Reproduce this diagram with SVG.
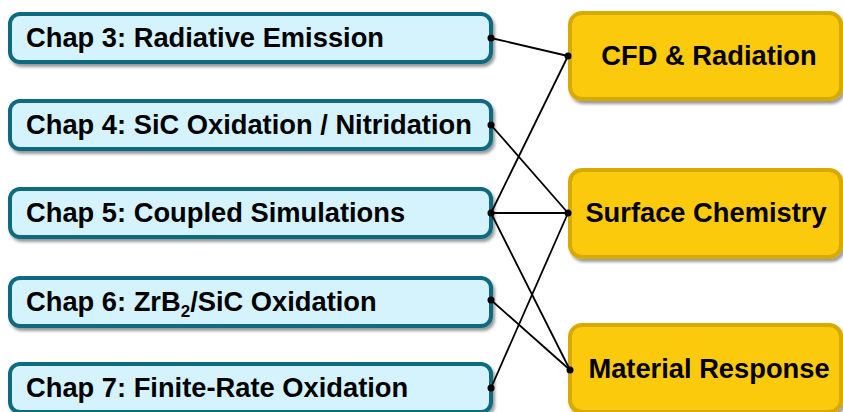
<svg xmlns="http://www.w3.org/2000/svg" width="843" height="412" viewBox="0 0 843 412">
<defs>
<filter id="sh" x="-5%" y="-20%" width="115%" height="150%">
<feDropShadow dx="2" dy="3" stdDeviation="1.5" flood-color="#000" flood-opacity="0.4"/>
</filter>
</defs>
<style>
.l rect{fill:#D5F3FC;stroke:#0F6A80;stroke-width:4;filter:url(#sh)}
.r rect{fill:#FCCA08;stroke:#D6AA06;stroke-width:4;filter:url(#sh)}
text{font-family:"Liberation Sans",Arial,sans-serif;font-weight:bold;font-size:27.3px;fill:#000}
.c line{stroke:#000;stroke-width:1.8}
.c circle{fill:#000}
</style>
<g id="n3" class="l"><rect x="10" y="14" width="481" height="48" rx="10"/><text x="26" y="47">Chap 3: Radiative Emission</text></g>
<g id="n4" class="l"><rect x="10" y="101" width="481" height="48" rx="10"/><text x="26" y="134">Chap 4: SiC Oxidation / Nitridation</text></g>
<g id="n5" class="l"><rect x="10" y="189" width="481" height="48" rx="10"/><text x="26" y="222">Chap 5: Coupled Simulations</text></g>
<g id="n6" class="l"><rect x="10" y="278" width="481" height="48" rx="10"/><text x="26" y="311">Chap 6: ZrB<tspan font-size="17" dy="6">2</tspan><tspan dy="-6">/SiC Oxidation</tspan></text></g>
<g id="n7" class="l"><rect x="10" y="364" width="481" height="48" rx="10"/><text x="26" y="397">Chap 7: Finite-Rate Oxidation</text></g>
<g id="cfd" class="r"><rect x="570" y="13" width="271" height="86" rx="12"/><text x="709" y="65" text-anchor="middle">CFD &amp; Radiation</text></g>
<g id="sc" class="r"><rect x="570" y="170" width="271" height="87" rx="12"/><text x="706" y="222" text-anchor="middle">Surface Chemistry</text></g>
<g id="mr" class="r"><rect x="570" y="325" width="271" height="87" rx="12"/><text x="709" y="378" text-anchor="middle">Material Response</text></g>
<g id="connectors" class="c">
<line x1="491" y1="38" x2="568" y2="56"/>
<line x1="491" y1="125" x2="568" y2="213"/>
<line x1="491" y1="213" x2="568" y2="56"/>
<line x1="491" y1="213" x2="568" y2="213"/>
<line x1="491" y1="213" x2="570" y2="370"/>
<line x1="491" y1="300" x2="570" y2="370"/>
<line x1="491" y1="388" x2="568" y2="213"/>
<circle cx="491" cy="38" r="3.5"/>
<circle cx="491" cy="125" r="3.5"/>
<circle cx="491" cy="213" r="3.5"/>
<circle cx="491" cy="300" r="3.5"/>
<circle cx="491" cy="388" r="3.5"/>
<circle cx="568" cy="56" r="3.5"/>
<circle cx="568" cy="213" r="3.5"/>
<circle cx="570" cy="370" r="3.5"/>
</g>
</svg>
